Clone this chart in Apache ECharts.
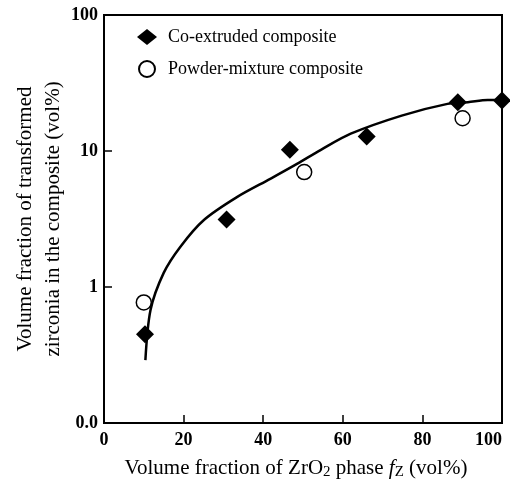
<!DOCTYPE html>
<html>
<head>
<meta charset="utf-8">
<script src="https://cdn.jsdelivr.net/npm/echarts@6/dist/echarts.min.js"></script>
<style>
    html,body{margin:0;padding:0;background:#fff;}
    #box{width:510px;height:480px;}
</style>
</head>
<body>
<div id="box"></div>
<script>
const coX = [10.3, 30.8, 46.7, 66.0, 88.9, 100];
const coY = [0.45, 3.13, 10.2, 12.8, 22.8, 23.5];
const pmX = [10.0, 50.3, 90.1];
const pmY = [0.77, 7.0, 17.4];
// fitted curve, traced
const curveX = [10.4, 11.7, 15.0, 19.2, 25.1, 33.5, 41.9, 48.6, 54.5, 62.0, 74.8, 86.3, 91.4, 96.4, 100];
const curveY = [0.29, 0.68, 1.27, 1.98, 3.11, 4.60, 6.27, 8.07, 10.2, 13.4, 18.2, 22.2, 22.8, 23.7, 23.7];
const xTicks = [0, 20, 40, 60, 80, 100];
const yTicks = ['0.0', '1', '10', '100'];

const serif = '"Liberation Serif", "Times New Roman", serif';
const zip = (xs, ys) => xs.map((x, i) => [x, ys[i]]);

let chart = echarts.init(document.getElementById('box'));
chart.setOption({
    animation: false,
    textStyle: {fontFamily: serif, color: '#000'},
    grid: {
        left: 104, right: 8, top: 15, bottom: 57,
        outerBoundsMode: 'none', containLabel: false,
        show: true, borderColor: '#000', borderWidth: 2
    },
    legend: {
        orient: 'vertical',
        left: 132, top: 23,
        itemWidth: 20, itemHeight: 16, itemGap: 14,
        symbolKeepAspect: true,
        data: ['Co-extruded composite', 'Powder-mixture composite'],
        textStyle: {fontFamily: serif, fontSize: 18, color: '#000', padding: [0, 0, 0, 6]}
    },
    xAxis: {
        type: 'value', min: 0, max: 100, interval: 20,
        axisLine: {lineStyle: {color: '#000', width: 2}},
        axisTick: {inside: true, length: 8, lineStyle: {color: '#000', width: 1.5}},
        splitLine: {show: false},
        axisLabel: {
            fontFamily: serif, fontSize: 18, fontWeight: 'bold', color: '#000', margin: 8,
            alignMaxLabel: 'right',
            formatter: v => xTicks.indexOf(v) >= 0 ? String(v) : ''
        },
        name: 'Volume fraction of ZrO{sub|2} phase {it|f}{sub|Z} (vol%)',
        nameLocation: 'middle', nameGap: 34, nameMoveOverlap: false,
        nameTextStyle: {
            fontFamily: serif, fontSize: 21, color: '#000', padding: [0, 14, 0, 0],
            rich: {
                sub: {fontFamily: serif, fontSize: 15, color: '#000', verticalAlign: 'bottom', padding: [8, 0, 0, 0]},
                it: {fontFamily: serif, fontSize: 21, fontStyle: 'italic', color: '#000'}
            }
        }
    },
    yAxis: {
        type: 'log', logBase: 10, min: 0.1, max: 100,
        axisLine: {lineStyle: {color: '#000', width: 2}},
        axisTick: {inside: true, length: 8, lineStyle: {color: '#000', width: 1.5}},
        minorTick: {show: false},
        splitLine: {show: false},
        axisLabel: {
            fontFamily: serif, fontSize: 18, fontWeight: 'bold', color: '#000', margin: 6,
            formatter: v => v < 0.5 ? yTicks[0] : (v < 5 ? yTicks[1] : (v < 50 ? yTicks[2] : yTicks[3]))
        },
        name: 'Volume fraction of transformed\nzirconia in the composite (vol%)',
        nameLocation: 'middle', nameGap: 37, nameRotate: 90, nameMoveOverlap: false,
        nameTextStyle: {fontFamily: serif, fontSize: 21, color: '#000', lineHeight: 28}
    },
    series: [
        {
            name: 'fit', type: 'line', data: zip(curveX, curveY),
            smooth: 0.3, showSymbol: false, clip: false,
            lineStyle: {color: '#000', width: 2.5}
        },
        {
            name: 'Co-extruded composite', type: 'scatter', data: zip(coX, coY),
            symbol: 'diamond', symbolSize: [18, 18], clip: false,
            itemStyle: {color: '#000', opacity: 1}
        },
        {
            name: 'Powder-mixture composite', type: 'scatter', data: zip(pmX, pmY),
            symbol: 'circle', symbolSize: 15, clip: false,
            itemStyle: {color: '#fff', borderColor: '#000', borderWidth: 1.5, opacity: 1}
        }
    ]
});
</script>
</body>
</html>
